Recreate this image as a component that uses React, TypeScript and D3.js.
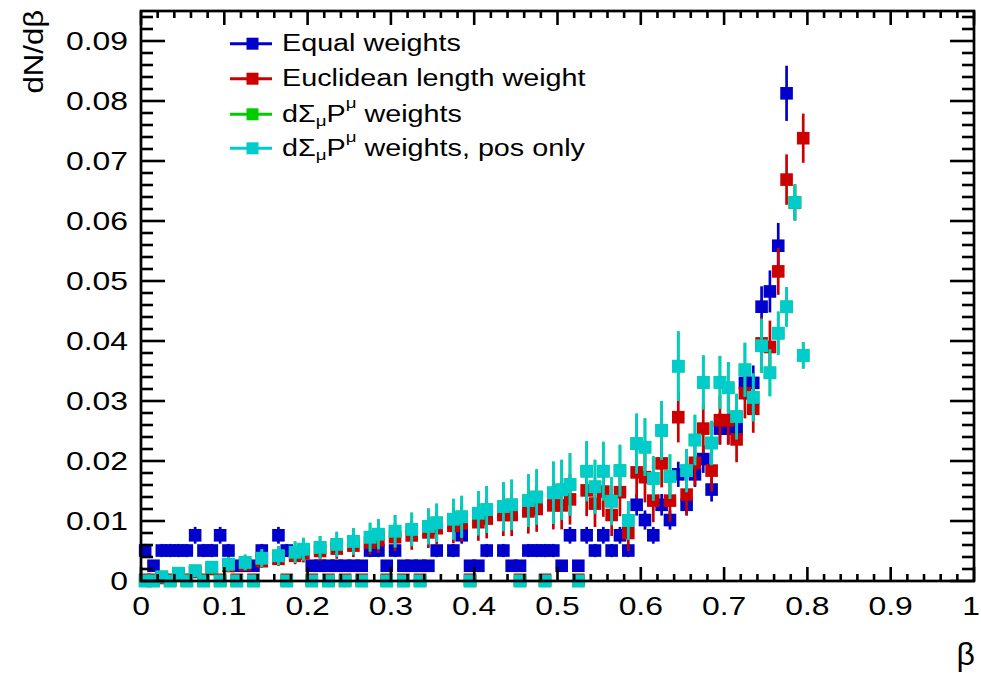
import React from "react";
import * as d3 from "d3";

// ---------- data (80 bins of width 0.01 in beta, 0 .. 0.8) ----------
const binWidth = 0.01;
const betaBins: number[] = d3.range(80).map((i) => +(0.005 + i * binWidth).toFixed(3));

type V = number | null;

// Equal weights (blue)
const equalValues: V[] = [
  0.00508, 0.00254, 0.00508, 0.00508, 0.00508, 0.00508, 0.00762, 0.00508, 0.00508, 0.00762,
  0.00508, 0.00254, 0.00254, 0.00254, 0.00508, null, 0.00762, 0.00508, null, null,
  0.00254, 0.00254, 0.00254, 0.00254, 0.00254, 0.00254, 0.00254, 0.00508, 0.00508, 0.00254,
  0.00508, 0.00254, 0.00254, 0.00254, 0.00254, 0.00508, null, 0.00508, 0.00762, 0.00254,
  0.00254, 0.00508, null, 0.00508, 0.00254, 0.00254, 0.00508, 0.00508, 0.00508, 0.00508,
  0.00254, 0.00762, 0.00254, 0.00762, 0.00508, 0.00762, 0.00508, 0.00762, 0.00508, 0.0127,
  0.01016, 0.00762, 0.0127, 0.01016, 0.01778, 0.0127, 0.01778, 0.02032, 0.01524, 0.0254,
  0.0254, 0.0254, 0.03302, 0.03302, 0.04572, 0.04826, 0.05588, 0.08128, null, null,
];
const equalErrors: V[] = [
  0.0011, 0.0008, 0.0011, 0.0011, 0.0011, 0.0011, 0.0014, 0.0011, 0.0011, 0.0014,
  0.0011, 0.0008, 0.0008, 0.0008, 0.0011, null, 0.0014, 0.0011, null, null,
  0.0008, 0.0008, 0.0008, 0.0008, 0.0008, 0.0008, 0.0008, 0.0011, 0.0011, 0.0008,
  0.0011, 0.0008, 0.0008, 0.0008, 0.0008, 0.0011, null, 0.0011, 0.0014, 0.0008,
  0.0008, 0.0011, null, 0.0011, 0.0008, 0.0008, 0.0011, 0.0011, 0.0011, 0.0011,
  0.0008, 0.0014, 0.0008, 0.0014, 0.0011, 0.0014, 0.0011, 0.0014, 0.0011, 0.0018,
  0.0016, 0.0014, 0.0018, 0.0016, 0.0021, 0.0018, 0.0021, 0.0023, 0.002, 0.0026,
  0.0026, 0.0026, 0.0029, 0.0029, 0.0034, 0.0035, 0.0038, 0.0046, null, null,
];

// Euclidean length weight (red)
const euclidValues: V[] = [
  0.0002, 0.0002, 0.0005, 0.0002, 0.0011, 0.0002, 0.0015, 0.0002, 0.002, 0.0002,
  0.0025, 0.0002, 0.0027, 0.0002, 0.0033, null, 0.0037, 0.0002, 0.0042, 0.0046,
  0.0002, 0.005, 0.0002, 0.0054, 0.0002, 0.0059, 0.0002, 0.0064, 0.0068, 0.0002,
  0.0073, 0.0002, 0.0076, 0.0002, 0.0081, 0.0088, null, 0.0092, 0.0096, 0.0002,
  0.0098, 0.0104, null, 0.011, 0.011, 0.0002, 0.0116, 0.012, 0.0002, 0.0126,
  0.0126, 0.0136, 0.0002, 0.0151, 0.0129, 0.0149, 0.011, 0.0148, 0.008, 0.0181,
  0.0173, 0.0134, 0.0196, 0.0134, 0.0273, 0.0144, 0.0197, 0.0254, 0.0184, 0.0268,
  0.0268, 0.0236, 0.0313, 0.0287, 0.0396, 0.039, 0.0516, 0.0669, 0.0631, 0.0738,
];
const euclidErrors: V[] = [
  0, 0, 0.0004, 0, 0.0006, 0, 0.0007, 0, 0.0008, 0,
  0.0009, 0, 0.001, 0, 0.0011, null, 0.0012, 0, 0.0014, 0.0015,
  0, 0.0016, 0, 0.0017, 0, 0.0019, 0, 0.002, 0.0021, 0,
  0.0023, 0, 0.0024, 0, 0.0026, 0.0028, null, 0.0029, 0.003, 0,
  0.0031, 0.0033, null, 0.0035, 0.0035, 0, 0.0037, 0.0038, 0, 0.004,
  0.004, 0.0042, 0, 0.0043, 0.0039, 0.0042, 0.0035, 0.004, 0.003, 0.0043,
  0.0042, 0.0036, 0.004, 0.0035, 0.0042, 0.0034, 0.0038, 0.0041, 0.0035, 0.0041,
  0.0041, 0.0038, 0.0042, 0.004, 0.0044, 0.0044, 0.0039, 0.0042, 0.003, 0.0041,
];

// dSigma_mu P^mu weights, positive only (cyan)
const posOnlyValues: V[] = [
  0, 0, 0.0007, 0, 0.0013, 0, 0.0017, 0, 0.0023, 0,
  0.0028, 0, 0.0031, 0, 0.0038, null, 0.0042, 0, 0.0048, 0.0053,
  0, 0.0056, 0, 0.0061, 0, 0.0066, 0, 0.0073, 0.0078, 0,
  0.0083, 0, 0.0086, 0, 0.0091, 0.0097, null, 0.0103, 0.0107, 0,
  0.0113, 0.0119, null, 0.0124, 0.0127, 0, 0.0134, 0.014, 0, 0.0147,
  0.0152, 0.0161, 0, 0.0183, 0.0157, 0.0183, 0.0133, 0.0184, 0.0101, 0.0229,
  0.0223, 0.0171, 0.0251, 0.0174, 0.0358, 0.0184, 0.0235, 0.0331, 0.023, 0.0331,
  0.0322, 0.0274, 0.0352, 0.0306, 0.0392, 0.0347, 0.0413, 0.0457, 0.0631, 0.0376,
];
const posOnlyErrors: V[] = [
  0, 0, 0.0006, 0, 0.0008, 0, 0.0009, 0, 0.001, 0,
  0.0012, 0, 0.0013, 0, 0.0015, null, 0.0016, 0, 0.0018, 0.0019,
  0, 0.0019, 0, 0.0021, 0, 0.0022, 0, 0.0024, 0.0025, 0,
  0.0027, 0, 0.0028, 0, 0.003, 0.0032, null, 0.0034, 0.0035, 0,
  0.0037, 0.0039, null, 0.0041, 0.0042, 0, 0.0044, 0.0046, 0, 0.0052,
  0.005, 0.0052, 0, 0.005, 0.0045, 0.0049, 0.004, 0.0043, 0.0032, 0.005,
  0.0048, 0.0037, 0.0049, 0.0037, 0.0058, 0.0036, 0.0042, 0.0045, 0.0037, 0.0044,
  0.0043, 0.0038, 0.0045, 0.004, 0.0045, 0.0039, 0.0036, 0.0033, 0.003, 0.0022,
];

// dSigma_mu P^mu weights (green) – coincides with the positive-only curve in the visible range
const sigmaValues: V[] = posOnlyValues.slice();
const sigmaErrors: V[] = posOnlyErrors.slice();

const xTicks = [0, 0.1, 0.2, 0.3, 0.4, 0.5, 0.6, 0.7, 0.8, 0.9, 1];
const xTickLabels = ["0", "0.1", "0.2", "0.3", "0.4", "0.5", "0.6", "0.7", "0.8", "0.9", "1"];
const yTicks = [0, 0.01, 0.02, 0.03, 0.04, 0.05, 0.06, 0.07, 0.08, 0.09];
const yTickLabels = ["0", "0.01", "0.02", "0.03", "0.04", "0.05", "0.06", "0.07", "0.08", "0.09"];

const seriesNames = ["Equal weights", "Euclidean length weight", "dΣμPμ weights", "dΣμPμ weights, pos only"];
const seriesColors = ["#0000cc", "#cc0000", "#00cc00", "#00cccc"];

// ---------- layout ----------
const W = 981;
const H = 673;
const FONT = "'Liberation Sans', Arial, Helvetica, sans-serif";
const SX = 1.25;

const x = d3.scaleLinear().domain([0, 1]).range([141, 974]);
const y = d3.scaleLinear().domain([0, 0.095]).range([581, 11]);

const MS = 12.6; // marker size

function Series({ values, errors, color }: { values: V[]; errors: V[]; color: string }) {
  return (
    <g>
      {values.map((v, i) => {
        if (v == null) return null;
        const e = errors[i] || 0;
        const cx = x(betaBins[i]);
        const lo = Math.max(0, v - e);
        return (
          <g key={i}>
            {e > 0 && (
              <line x1={cx} x2={cx} y1={y(v + e)} y2={y(lo)} stroke={color} strokeWidth={2.7} />
            )}
            <rect x={cx - MS / 2} y={y(v) - MS / 2} width={MS} height={MS} fill={color} />
          </g>
        );
      })}
    </g>
  );
}

function T({
  x: tx,
  y: ty,
  anchor = "start",
  size,
  sx = SX,
  rotate = 0,
  children,
}: {
  x: number;
  y: number;
  anchor?: string;
  size: number;
  sx?: number;
  rotate?: number;
  children: React.ReactNode;
}) {
  return (
    <text
      transform={`translate(${tx},${ty}) rotate(${rotate}) scale(${sx},1)`}
      textAnchor={anchor}
      fontSize={size}
      fontFamily={FONT}
      fill="#000"
    >
      {children}
    </text>
  );
}

function SigmaLabel({ posOnly }: { posOnly: boolean }) {
  return (
    <>
      <tspan>dΣ</tspan>
      <tspan fontSize={15} dy={4.5}>μ</tspan>
      <tspan dy={-4.5}>P</tspan>
      <tspan fontSize={15} dy={-13.5}>μ</tspan>
      <tspan dy={13.5}>{posOnly ? " weights, pos only" : " weights"}</tspan>
    </>
  );
}

export default function App() {
  const x0 = x(0), x1 = x(1), y0 = y(0), yTop = 11;
  const xMinor = d3.range(0, 1.0001, 0.02);
  const yMinor = d3.range(0, 0.0951, 0.002);
  const legendY = [43.7, 78.7, 114.3, 148.3];

  return (
    <svg
      width={W}
      height={H}
      viewBox={`0 0 ${W} ${H}`}
      style={{ position: "absolute", left: 0, top: 0, background: "#fff" }}
    >
      <rect x={0} y={0} width={W} height={H} fill="#fff" />

      {/* series */}
      <Series values={equalValues} errors={equalErrors} color={seriesColors[0]} />
      <Series values={euclidValues} errors={euclidErrors} color={seriesColors[1]} />
      <Series values={sigmaValues} errors={sigmaErrors} color={seriesColors[2]} />
      <Series values={posOnlyValues} errors={posOnlyErrors} color={seriesColors[3]} />

      {/* ticks */}
      <g stroke="#000" strokeWidth={2.6}>
        {xMinor.map((t, i) => {
          const major = Math.abs(t * 10 - Math.round(t * 10)) < 1e-6;
          const len = major ? 14 : 7;
          return (
            <g key={"xt" + i}>
              <line x1={x(t)} x2={x(t)} y1={y0} y2={y0 - len} />
              <line x1={x(t)} x2={x(t)} y1={yTop} y2={yTop + len} />
            </g>
          );
        })}
        {yMinor.map((t, i) => {
          const major = Math.abs(t * 100 - Math.round(t * 100)) < 1e-6;
          const len = major ? 24 : 12;
          return (
            <g key={"yt" + i}>
              <line x1={x0} x2={x0 + len} y1={y(t)} y2={y(t)} />
              <line x1={x1} x2={x1 - len} y1={y(t)} y2={y(t)} />
            </g>
          );
        })}
      </g>

      {/* frame */}
      <rect x={x0} y={yTop} width={x1 - x0} height={y0 - yTop} fill="none" stroke="#000" strokeWidth={2.7} />

      {/* tick labels */}
      {xTicks.map((t, i) => (
        <T key={"xl" + i} x={i === xTicks.length - 1 ? x(t) - 3 : x(t)} y={615} anchor="middle" size={25.5}>
          {xTickLabels[i]}
        </T>
      ))}
      {yTicks.map((t, i) => (
        <T key={"yl" + i} x={128} y={y(t) + 9} anchor="end" size={25.5}>
          {yTickLabels[i]}
        </T>
      ))}

      {/* axis titles */}
      <T x={975} y={665} anchor="end" size={32} sx={1}>
        β
      </T>
      <T x={43} y={10} anchor="end" size={27} sx={1.15} rotate={-90}>
        dN/dβ
      </T>

      {/* legend */}
      {seriesNames.map((name, i) => (
        <g key={"lg" + i}>
          <line x1={230} x2={272} y1={legendY[i]} y2={legendY[i]} stroke={seriesColors[i]} strokeWidth={3} />
          <rect x={252.5 - 6} y={legendY[i] - 6} width={12} height={12} fill={seriesColors[i]} />
          <T x={282} y={legendY[i] + 7.5} size={23}>
            {i < 2 ? name : <SigmaLabel posOnly={i === 3} />}
          </T>
        </g>
      ))}
    </svg>
  );
}
